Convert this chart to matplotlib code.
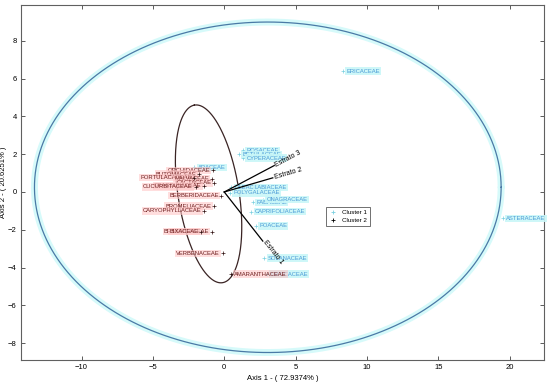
import numpy as np
import matplotlib
matplotlib.use("Agg")
import matplotlib.pyplot as plt
from matplotlib.lines import Line2D

plt.rcParams['font.family'] = ['Liberation Sans', 'DejaVu Sans']

# ---------------- data ----------------
c1_names = ["ERICACEAE", "ASTERACEAE", "ROSACEAE", "BETULACEAE", "CYPERACEAE",
            "ARACEAE", "OLEACEAE", "LABIACEAE", "POLYGALACEAE", "FABACEAE",
            "ONAGRACEAE", "CAPRIFOLIACEAE", "POACEAE", "SOLANACEAE", "URTICACEAE"]
c1_x = [8.3, 19.5, 1.3, 1.0, 1.3, -2.1, 0.5, 1.9, 0.4, 2.0, 2.7, 1.9, 2.2, 2.8, 3.0]
c1_y = [6.4, -1.4, 2.2, 2.0, 1.8, 1.3, 0.25, 0.25, -0.05, -0.55, -0.4, -1.05, -1.8, -3.5, -4.35]

c2_names = ["ORCHIDACEAE", "BUTOMACEAE", "PORTULACACEAE", "MALVACEAE", "CACTACEAE",
            "CRASSULACEAE", "CUCURBITACEAE", "BERBERIDACEAE", "BROMELIACEAE",
            "CARYOPHYLLACEAE", "BRASSICACEAE", "BIXACEAE", "VERBENACEAE"]
c2_x = [-0.8, -1.75, -2.1, -0.85, -0.7, -1.4, -2.0, -0.2, -0.7, -1.4, -0.85, -1.6, -0.1]
c2_y = [1.15, 0.95, 0.75, 0.7, 0.48, 0.32, 0.27, -0.2, -0.75, -1.0, -2.1, -2.1, -3.25]
c2_right_names = ["AMARANTHACEAE"]
c2_right_x = [0.5]
c2_right_y = [-4.35]

vec_names = ["Estrato 1", "Estrato 2", "Estrato 3"]
vec_x = [2.7, 3.4, 3.5]
vec_y = [-2.6, 0.75, 1.4]

# confidence ellipses (center, conjugate semi-axes)
big_center = (3.05, 0.25)
big_semi = (16.35, 8.75)
small_center = (-1.1, -0.1)
small_u = (-1.0, 4.7)
small_v = (2.1, 0.3)

xticks = [-10, -5, 0, 5, 10, 15, 20]
yticks = [-8, -6, -4, -2, 0, 2, 4, 6, 8]

# ---------------- figure ----------------
fig = plt.figure(figsize=(5.5, 3.88), dpi=100)
ax = fig.add_axes([0.038, 0.072, 0.951, 0.915])
ax.set_xlim(-14.25, 22.4)
ax.set_ylim(-8.9, 9.9)

t = np.linspace(0, 2 * np.pi, 400)
bx = big_center[0] + big_semi[0] * np.cos(t)
by = big_center[1] + big_semi[1] * np.sin(t)
ax.plot(bx, by, color="#d6fafa", lw=5, zorder=1, solid_capstyle="round")
ax.plot(bx, by, color="#4a7aa6", lw=0.9, zorder=2)

sx = small_center[0] + small_u[0] * np.cos(t) + small_v[0] * np.sin(t)
sy = small_center[1] + small_u[1] * np.cos(t) + small_v[1] * np.sin(t)
ax.plot(sx, sy, color="#3a2424", lw=0.9, zorder=2)

fs = 4.2
c1_col = "#4a9ad6"
c1_bg = "#c9f7f8"
c2_col = "#6e1d1d"
c2_bg = "#ffc8c8"

ax.plot(c1_x, c1_y, "+", color="#7ad0e0", ms=2.5, mew=0.5, zorder=3)
for n, x, y in zip(c1_names, c1_x, c1_y):
    ax.text(x + 0.25, y, n, fontsize=fs, color=c1_col, va="center", ha="left",
            bbox=dict(boxstyle="square,pad=0.2", fc=c1_bg, ec="none", alpha=0.9), zorder=4)

ax.plot(c2_x + c2_right_x, c2_y + c2_right_y, "+", color="#301010", ms=2.5, mew=0.5, zorder=5)
for n, x, y in zip(c2_names, c2_x, c2_y):
    ax.text(x - 0.2, y, n, fontsize=fs, color=c2_col, va="center", ha="right",
            bbox=dict(boxstyle="square,pad=0.2", fc=c2_bg, ec="none", alpha=0.6), zorder=4)
for n, x, y in zip(c2_right_names, c2_right_x, c2_right_y):
    ax.text(x + 0.2, y, n, fontsize=fs, color=c2_col, va="center", ha="left",
            bbox=dict(boxstyle="square,pad=0.2", fc=c2_bg, ec="none", alpha=0.6), zorder=4)

for n, x, y in zip(vec_names, vec_x, vec_y):
    ax.plot([0, x], [0, y], color="black", lw=0.9, zorder=6)
    ang = np.degrees(np.arctan2(y * 18.8, x * 14.27))
    ax.text(x + 0.1 * np.sign(x), y, n, fontsize=5, color="black", rotation=ang,
            rotation_mode="anchor", ha="left", va="center", zorder=7)

handles = [Line2D([], [], ls="none", marker="+", color="#7ad0e0", ms=3, mew=0.6),
           Line2D([], [], ls="none", marker="+", color="black", ms=3, mew=0.6)]
leg = ax.legend(handles, ["Cluster 1", "Cluster 2"], loc="upper left",
                bbox_to_anchor=(0.578, 0.44), fontsize=4.5, frameon=True,
                fancybox=False, edgecolor="#303030", handlelength=1.2,
                borderpad=0.5, labelspacing=0.4, handletextpad=0.8)
leg.get_frame().set_linewidth(0.6)

ax.set_xticks(xticks)
ax.set_yticks(yticks)
ax.tick_params(direction="in", labelsize=5.5, length=3, width=0.6,
               top=True, right=True, pad=3, colors="#404040", labelcolor="black")
for s in ax.spines.values():
    s.set_linewidth(0.8)
    s.set_color("#606060")

ax.set_xlabel("Axis 1 - ( 72.9374% )", fontsize=5.5, labelpad=3)
ax.set_ylabel("Axis 2 - ( 20.6251% )", fontsize=5.5, labelpad=1)

fig.savefig("out.png", dpi=100)
